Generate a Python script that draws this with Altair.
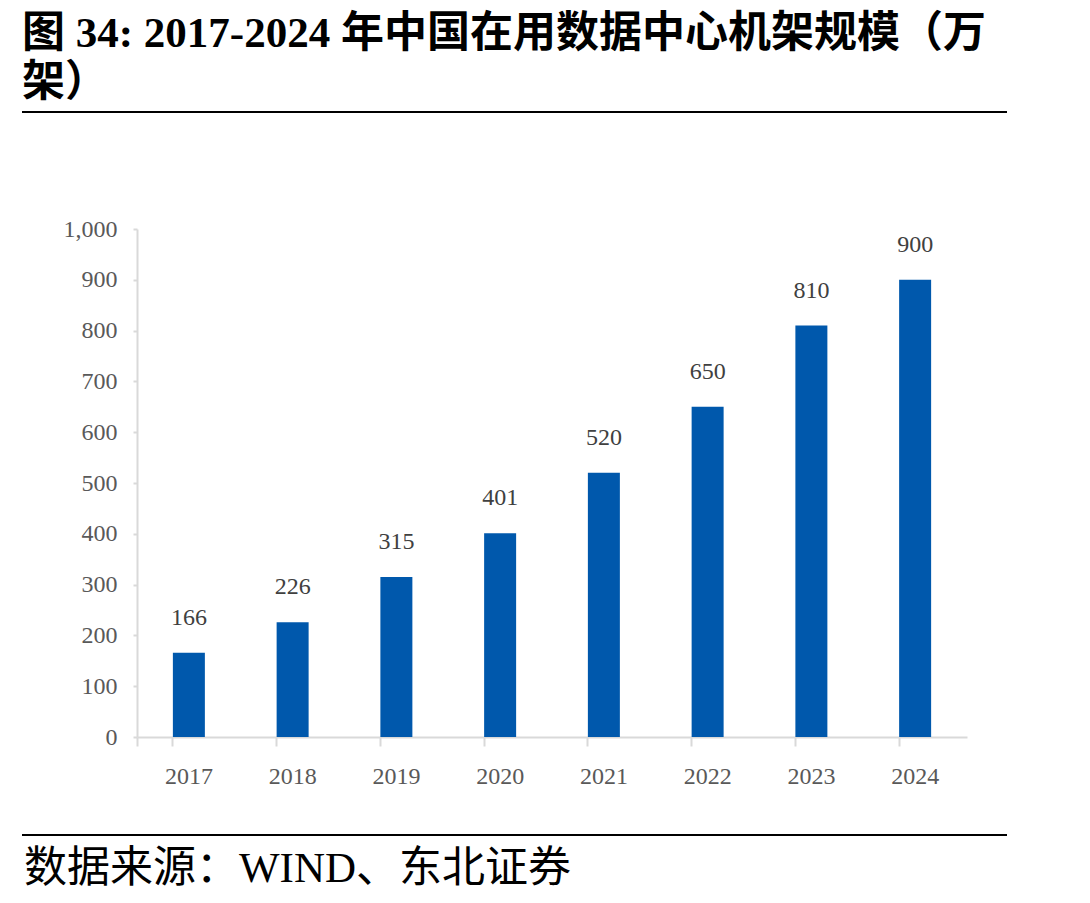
import altair as alt
import pandas as pd

years = ["2017", "2018", "2019", "2020", "2021", "2022", "2023", "2024"]
racks = [166, 226, 315, 401, 520, 650, 810, 900]
title_line1 = "图  34: 2017-2024 年中国在用数据中心机架规模（万"
title_line2 = "架）"
source_text = "数据来源：WIND、东北证券"

df = pd.DataFrame({"year": years, "value": racks})

W, H = 830, 508
SERIF = "Liberation Serif, Noto Sans CJK SC"
CJK = "Liberation Serif, Noto Sans CJK SC"

base = alt.Chart(df)

bars = base.mark_bar(color="#0058AC", size=32).encode(
    x=alt.X("year:N", sort=years,
            scale=alt.Scale(paddingInner=0.69, paddingOuter=0.345),
            axis=alt.Axis(title=None, labelFont=SERIF, labelFontSize=24,
                          labelColor="#595959", labelAngle=0,
                          domainColor="#D9D9D9", domainWidth=2,
                          tickColor="#D9D9D9", tickWidth=2, tickSize=9,
                          bandPosition=0, tickExtra=True, labelPadding=18)),
    y=alt.Y("value:Q", scale=alt.Scale(domain=[0, 1000], nice=False),
            axis=alt.Axis(title=None, values=list(range(0, 1001, 100)), format=",.0f",
                          labelFont=SERIF, labelFontSize=24, labelColor="#595959",
                          domainColor="#D9D9D9", domainWidth=2,
                          tickColor="#D9D9D9", tickWidth=2, tickSize=4,
                          labelPadding=16, grid=False)),
)

labels = base.mark_text(font=SERIF, fontSize=24, color="#404040",
                        baseline="bottom", dy=-23).encode(
    x=alt.X("year:N", sort=years),
    y="value:Q",
    text="value:Q",
)

t1 = alt.Chart(pd.DataFrame({"t": [title_line1]})).mark_text(
    font=CJK, fontSize=43, fontWeight="bold", color="#000000",
    align="left", baseline="alphabetic").encode(
    x=alt.value(-115), y=alt.value(-182), text="t:N")
t2 = alt.Chart(pd.DataFrame({"t": [title_line2]})).mark_text(
    font=CJK, fontSize=43, fontWeight="bold", color="#000000",
    align="left", baseline="alphabetic").encode(
    x=alt.value(-115), y=alt.value(-133), text="t:N")
src = alt.Chart(pd.DataFrame({"t": [source_text]})).mark_text(
    font=CJK, fontSize=43, color="#000000",
    align="left", baseline="alphabetic").encode(
    x=alt.value(-113), y=alt.value(653), text="t:N")

rule_top = alt.Chart(pd.DataFrame({"a": [0]})).mark_rule(color="#000000", strokeWidth=2).encode(
    x=alt.value(-115), x2=alt.value(870), y=alt.value(-117))
rule_bot = alt.Chart(pd.DataFrame({"a": [0]})).mark_rule(color="#000000", strokeWidth=2).encode(
    x=alt.value(-115), x2=alt.value(870), y=alt.value(606))

chart = alt.layer(bars, labels, t1, t2, src, rule_top, rule_bot).properties(
    width=W, height=H,
    autosize=alt.AutoSizeParams(type="none"),
    padding={"left": 137, "top": 229, "right": 123, "bottom": 166},
).configure_view(stroke=None)

chart.save("out.html", embed_options={"renderer": "svg", "actions": False})
